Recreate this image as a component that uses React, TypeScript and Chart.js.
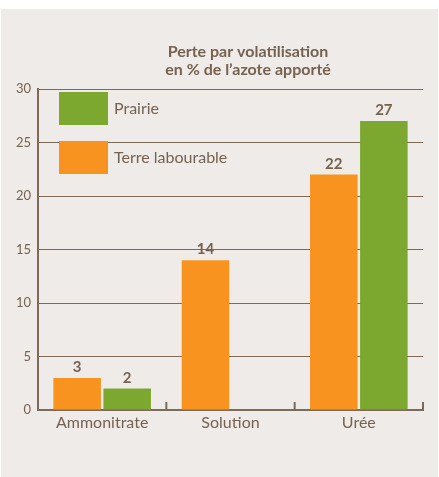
import React, { useEffect, useRef } from "react";
import { Chart, registerables } from "chart.js";

Chart.register(...registerables);

const categories = ["Ammonitrate", "Solution", "Urée"];
const terreValues: (number | null)[] = [3, 14, 22];
const prairieValues: (number | null)[] = [2, null, 27];
const seriesNames = ["Terre labourable", "Prairie"];
const legendOrder = ["Prairie", "Terre labourable"];
const titleLines = ["Perte par volatilisation", "en % de l’azote apporté"];
const yMin = 0;
const yMax = 30;
const yStep = 5;

const ORANGE = "#f7931e";
const GREEN = "#7ca82f";
const TEXT = "#76624f";
const GRID = "#7d6a58";
const PANEL = "#eeebe8";
const FONT = "Lato, 'Open Sans', sans-serif";

const colorFor: Record<string, string> = {
  "Terre labourable": ORANGE,
  Prairie: GREEN,
};

const panelPlugin = {
  id: "panel",
  beforeDraw(chart: any) {
    const { ctx, width, height } = chart;
    ctx.save();
    ctx.fillStyle = "#ffffff";
    ctx.fillRect(0, 0, width, height);
    ctx.fillStyle = PANEL;
    ctx.fillRect(1, 9, 437, height - 9);
    ctx.restore();
  },
};

const titlePlugin = {
  id: "customTitle",
  afterDraw(chart: any) {
    const { ctx } = chart;
    ctx.save();
    ctx.fillStyle = TEXT;
    ctx.font = `bold 16px ${FONT}`;
    ctx.textAlign = "center";
    ctx.textBaseline = "middle";
    ctx.fillText(titleLines[0], 248, 52);
    ctx.fillText(titleLines[1], 248, 70);
    ctx.restore();
  },
};

const legendPlugin = {
  id: "insideLegend",
  afterDatasetsDraw(chart: any) {
    const { ctx, chartArea } = chart;
    ctx.save();
    legendOrder.forEach((name, i) => {
      const x = chartArea.left + 21;
      const y = chartArea.top + 3 + i * 49;
      ctx.fillStyle = colorFor[name];
      ctx.fillRect(x, y, 49, 33);
      ctx.fillStyle = TEXT;
      ctx.font = `16px ${FONT}`;
      ctx.textAlign = "left";
      ctx.textBaseline = "middle";
      ctx.fillText(name, x + 55, y + 17);
    });
    ctx.restore();
  },
};

const valueLabelPlugin = {
  id: "valueLabels",
  afterDatasetsDraw(chart: any) {
    const { ctx } = chart;
    ctx.save();
    ctx.fillStyle = TEXT;
    ctx.font = `bold 15px ${FONT}`;
    ctx.textAlign = "center";
    ctx.textBaseline = "alphabetic";
    chart.data.datasets.forEach((ds: any, di: number) => {
      const meta = chart.getDatasetMeta(di);
      meta.data.forEach((el: any, i: number) => {
        const v = ds.data[i];
        if (v === null || v === undefined) return;
        ctx.fillText(String(v), el.x, el.y - 6);
      });
    });
    ctx.restore();
  },
};

const tickMarkPlugin = {
  id: "catTicks",
  afterDraw(chart: any) {
    const { ctx, chartArea } = chart;
    const xs = chart.scales.x;
    ctx.save();
    ctx.strokeStyle = GRID;
    ctx.lineWidth = 2;
    for (let i = 0; i < categories.length; i++) {
      const x =
        i < categories.length - 1
          ? (xs.getPixelForTick(i) + xs.getPixelForTick(i + 1)) / 2
          : chartArea.right;
      ctx.beginPath();
      ctx.moveTo(x, chartArea.bottom - 8);
      ctx.lineTo(x, chartArea.bottom);
      ctx.stroke();
    }
    ctx.restore();
  },
};

export default function App() {
  const ref = useRef<HTMLCanvasElement | null>(null);

  useEffect(() => {
    document.body.style.margin = "0";
    if (!ref.current) return;
    const chart = new Chart(ref.current, {
      type: "bar",
      data: {
        labels: categories,
        datasets: [
          {
            label: seriesNames[0],
            data: terreValues,
            backgroundColor: ORANGE,
            categoryPercentage: 0.78,
            barPercentage: 0.95,
          },
          {
            label: seriesNames[1],
            data: prairieValues,
            backgroundColor: GREEN,
            categoryPercentage: 0.78,
            barPercentage: 0.95,
          },
        ],
      },
      options: {
        animation: false,
        responsive: true,
        maintainAspectRatio: false,
        layout: { padding: { left: 0, right: 16, top: 89, bottom: 37 } },
        plugins: {
          legend: { display: false },
          title: { display: false },
          tooltip: { enabled: false },
        },
        scales: {
          x: {
            grid: { display: false, drawTicks: false },
            border: { display: true, color: GRID, width: 2 },
            ticks: { color: TEXT, font: { family: FONT, size: 16 }, padding: 3 },
            afterFit: (s: any) => {
              s.height = 30;
            },
          },
          y: {
            min: yMin,
            max: yMax,
            ticks: {
              stepSize: yStep,
              color: TEXT,
              font: { family: FONT, size: 13 },
              padding: 7,
            },
            grid: { color: GRID, lineWidth: 1, drawTicks: false },
            border: { display: true, color: GRID, width: 2 },
            afterFit: (s: any) => {
              s.width = 38;
            },
          },
        },
      },
      plugins: [panelPlugin, titlePlugin, legendPlugin, valueLabelPlugin, tickMarkPlugin],
    });
    return () => chart.destroy();
  }, []);

  return (
    <div style={{ width: 439, height: 477, position: "relative" }}>
      <canvas ref={ref} />
    </div>
  );
}
